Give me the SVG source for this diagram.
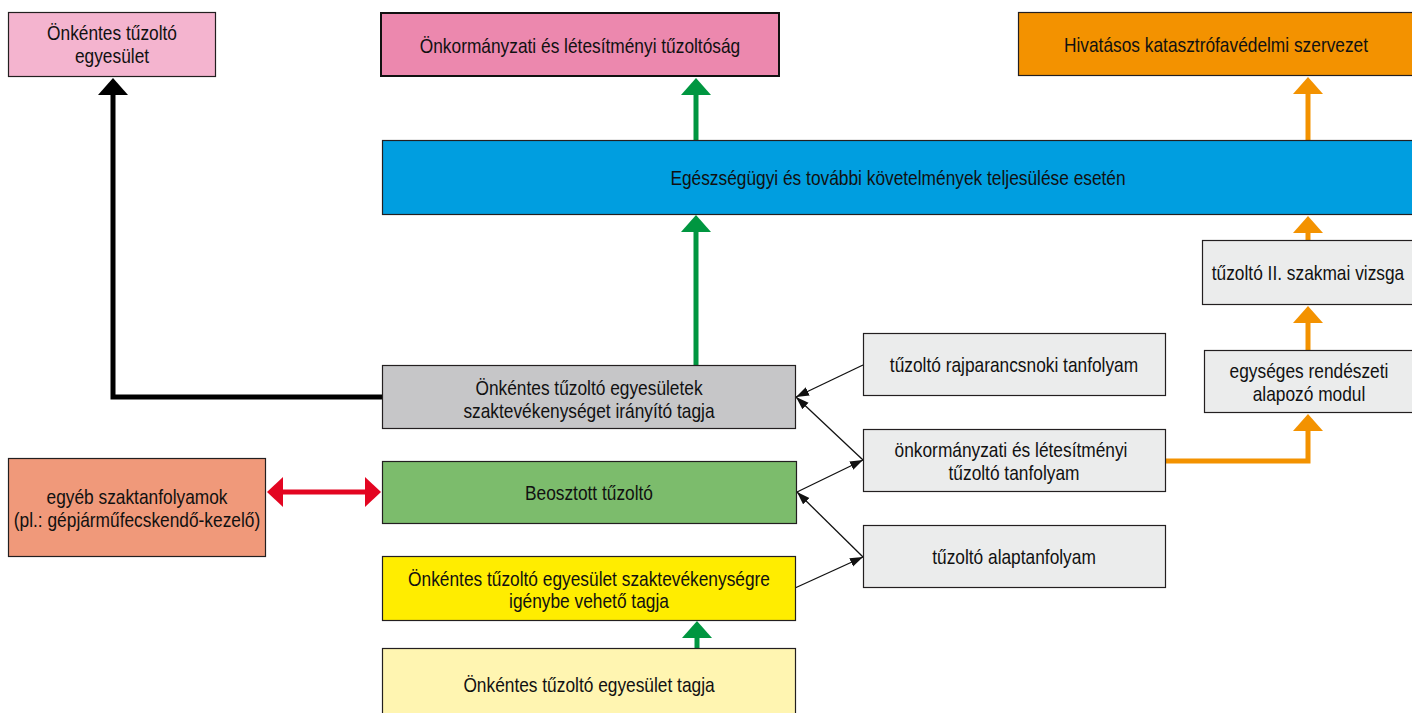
<svg xmlns="http://www.w3.org/2000/svg" width="1412" height="713" viewBox="0 0 1412 713">
<style>
.box{stroke:#231f20;stroke-width:1.2}
.t{font-family:"Liberation Sans",Arial,sans-serif;font-size:20.5px;fill:#111;text-anchor:middle}
.thin{stroke:#111;stroke-width:1.3;fill:none}
</style>
<defs>
<marker id="hG" markerUnits="userSpaceOnUse" viewBox="0 -15 17 30" markerWidth="17" markerHeight="30" refX="1" refY="0" orient="auto"><path d="M0,-15L17,0L0,15z" fill="#009640"/></marker>
<marker id="hO" markerUnits="userSpaceOnUse" viewBox="0 -15 17 30" markerWidth="17" markerHeight="30" refX="1" refY="0" orient="auto"><path d="M0,-15L17,0L0,15z" fill="#f39200"/></marker>
<marker id="hK" markerUnits="userSpaceOnUse" viewBox="0 -15 17 30" markerWidth="17" markerHeight="30" refX="1" refY="0" orient="auto"><path d="M0,-15L17,0L0,15z" fill="#000"/></marker>
<marker id="hR" markerUnits="userSpaceOnUse" viewBox="0 -15 16 30" markerWidth="16" markerHeight="30" refX="1" refY="0" orient="auto-start-reverse"><path d="M0,-15L16,0L0,15z" fill="#e30521"/></marker>
<marker id="hT" markerUnits="userSpaceOnUse" viewBox="0 -5 13 10" markerWidth="13" markerHeight="10" refX="13" refY="0" orient="auto"><path d="M0,-4.5L13,0L0,4.5z" fill="#111"/></marker>
</defs>

<g id="connectors">
<path d="M382,397H113V94" stroke="#000" stroke-width="5" fill="none" marker-end="url(#hK)"/>
<path d="M696,140V94" stroke="#009640" stroke-width="5" fill="none" marker-end="url(#hG)"/>
<path d="M696,365V231" stroke="#009640" stroke-width="5" fill="none" marker-end="url(#hG)"/>
<path d="M697,648V637" stroke="#009640" stroke-width="5" fill="none" marker-end="url(#hG)"/>
<path d="M1308,140V93" stroke="#f39200" stroke-width="5" fill="none" marker-end="url(#hO)"/>
<path d="M1308,240V232" stroke="#f39200" stroke-width="5" fill="none" marker-end="url(#hO)"/>
<path d="M1308,350V322" stroke="#f39200" stroke-width="5" fill="none" marker-end="url(#hO)"/>
<path d="M1166,461H1308V430" stroke="#f39200" stroke-width="5" fill="none" marker-end="url(#hO)"/>
<path d="M282,492H366" stroke="#e30521" stroke-width="5" fill="none" marker-start="url(#hR)" marker-end="url(#hR)"/>
<path class="thin" d="M863,365L796,397" marker-end="url(#hT)"/>
<path class="thin" d="M863,460L796,397" marker-end="url(#hT)"/>
<path class="thin" d="M797,492L863,460" marker-end="url(#hT)"/>
<path class="thin" d="M863,557L797,492" marker-end="url(#hT)"/>
<path class="thin" d="M795,588L863,557" marker-end="url(#hT)"/>
</g>

<g id="n-onkentes-egyesulet"><rect class="box" x="8.5" y="12.5" width="207" height="64" fill="#f4b4cf"/><text class="t" transform="translate(112,40) scale(0.845,1)">Önkéntes tűzoltó</text><text class="t" transform="translate(112,63) scale(0.845,1)">egyesület</text></g>
<g id="n-onkormanyzati-tuzoltosag"><rect x="381" y="13" width="398" height="63" fill="#ec88ae" stroke="#111" stroke-width="2"/><text class="t" transform="translate(580,53) scale(0.845,1)">Önkormányzati és létesítményi tűzoltóság</text></g>
<g id="n-hivatasos"><rect class="box" x="1018.5" y="12.5" width="400" height="63" fill="#f39200"/><text class="t" transform="translate(1216,52) scale(0.845,1)">Hivatásos katasztrófavédelmi szervezet</text></g>
<g id="n-egeszsegugyi"><rect class="box" x="382.5" y="140.5" width="1040" height="74" fill="#009ee0"/><text class="t" transform="translate(898,185) scale(0.845,1)">Egészségügyi és további követelmények teljesülése esetén</text></g>
<g id="n-szakmai-vizsga"><rect class="box" x="1202.5" y="240.5" width="220" height="64" fill="#ebecec"/><text class="t" transform="translate(1308,280) scale(0.845,1)">tűzoltó II. szakmai vizsga</text></g>
<g id="n-rendeszeti"><rect class="box" x="1204.5" y="350.5" width="220" height="62" fill="#ebecec"/><text class="t" transform="translate(1309,378) scale(0.845,1)">egységes rendészeti</text><text class="t" transform="translate(1309,401) scale(0.845,1)">alapozó modul</text></g>
<g id="n-rajparancsnoki"><rect class="box" x="863.5" y="333.5" width="302" height="62" fill="#ebecec"/><text class="t" transform="translate(1014,372) scale(0.845,1)">tűzoltó rajparancsnoki tanfolyam</text></g>
<g id="n-onkormanyzati-tanfolyam"><rect class="box" x="863.5" y="429.5" width="302" height="62" fill="#ebecec"/><text class="t" transform="translate(1011,457) scale(0.845,1)">önkormányzati és létesítményi</text><text class="t" transform="translate(1014,480) scale(0.845,1)">tűzoltó tanfolyam</text></g>
<g id="n-alaptanfolyam"><rect class="box" x="863.5" y="525.5" width="302" height="62" fill="#ebecec"/><text class="t" transform="translate(1014,564) scale(0.845,1)">tűzoltó alaptanfolyam</text></g>
<g id="n-iranyito"><rect class="box" x="382.5" y="365.5" width="413" height="63" fill="#c6c6c8"/><text class="t" transform="translate(589,395) scale(0.845,1)">Önkéntes tűzoltó egyesületek</text><text class="t" transform="translate(589,418) scale(0.845,1)">szaktevékenységet irányító tagja</text></g>
<g id="n-beosztott"><rect class="box" x="382.5" y="461.5" width="414" height="62" fill="#7cbc6c"/><text class="t" transform="translate(589,500) scale(0.845,1)">Beosztott tűzoltó</text></g>
<g id="n-igenybe"><rect class="box" x="382.5" y="556.5" width="413" height="64" fill="#ffed00"/><text class="t" transform="translate(589,586) scale(0.845,1)">Önkéntes tűzoltó egyesület szaktevékenységre</text><text class="t" transform="translate(589,608) scale(0.845,1)">igénybe vehető tagja</text></g>
<g id="n-tagja"><rect class="box" x="382.5" y="648.5" width="413" height="80" fill="#fff5b1"/><text class="t" transform="translate(589,692) scale(0.845,1)">Önkéntes tűzoltó egyesület tagja</text></g>
<g id="n-egyeb"><rect class="box" x="8.5" y="458.5" width="257" height="98" fill="#f0997a"/><text class="t" transform="translate(137,504) scale(0.845,1)">egyéb szaktanfolyamok</text><text class="t" transform="translate(137,527) scale(0.845,1)">(pl.: gépjárműfecskendő-kezelő)</text></g>
</svg>
